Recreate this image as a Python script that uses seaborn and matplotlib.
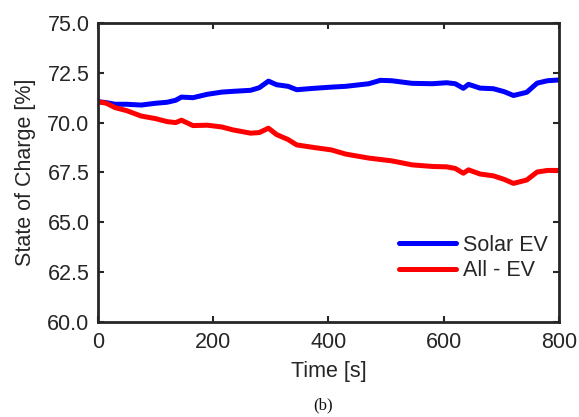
import numpy as np
import pandas as pd
import seaborn as sns
import matplotlib.pyplot as plt

# Time axis [s] and the two state-of-charge traces [%]
time_s = [0, 15, 30, 50, 75, 100, 120, 135, 145, 165, 190, 215, 235, 265, 280,
          296, 310, 330, 345, 375, 405, 430, 470, 490, 510, 545, 580, 605, 620,
          634, 643, 663, 686, 705, 721, 744, 762, 780, 800]
solar_ev = [71.05, 71.0, 70.92, 70.92, 70.88, 70.97, 71.02, 71.12, 71.28, 71.25,
            71.42, 71.53, 71.57, 71.62, 71.75, 72.08, 71.9, 71.82, 71.65, 71.72,
            71.78, 71.82, 71.95, 72.12, 72.1, 71.97, 71.95, 72.0, 71.95, 71.72,
            71.92, 71.73, 71.7, 71.55, 71.36, 71.52, 71.98, 72.1, 72.14]
all_ev = [71.05, 70.97, 70.75, 70.6, 70.33, 70.2, 70.05, 70.0, 70.12, 69.85,
          69.87, 69.78, 69.63, 69.47, 69.5, 69.72, 69.4, 69.15, 68.88, 68.75,
          68.63, 68.42, 68.22, 68.15, 68.08, 67.88, 67.8, 67.78, 67.7, 67.46,
          67.63, 67.42, 67.33, 67.15, 66.95, 67.12, 67.52, 67.6, 67.6]
series_names = ["Solar EV", "All - EV"]
series_colors = ["#0000ff", "#ff0000"]
y_ticks = [60.0, 62.5, 65.0, 67.5, 70.0, 72.5, 75.0]
x_ticks = [0, 200, 400, 600, 800]

sns.set_theme(style="ticks")
plt.rcParams['font.family'] = ['Liberation Sans', 'DejaVu Sans']
FS = 15.5

df = pd.DataFrame({
    'time': time_s * 2,
    'soc': solar_ev + all_ev,
    'series': [series_names[0]] * len(time_s) + [series_names[1]] * len(time_s),
})

fig = plt.figure(figsize=(5.79, 4.17), dpi=100)
ax = fig.add_axes([0.169, 0.228, 0.7965, 0.717])
sns.lineplot(data=df, x='time', y='soc', hue='series', hue_order=series_names,
             palette=series_colors, linewidth=3.6, ax=ax)

ax.set_xlim(0, 800)
ax.set_ylim(60, 75)
ax.set_xticks(x_ticks)
ax.set_yticks(y_ticks)
ax.set_yticklabels([f"{v:.1f}" for v in y_ticks])
ax.tick_params(direction='in', length=4, width=1.5, labelsize=FS,
               colors='#262626', top=True, right=True)
ax.tick_params(axis='x', pad=7)
ax.tick_params(axis='y', pad=6)
for sp in ax.spines.values():
    sp.set_visible(True)
    sp.set_linewidth(2)
    sp.set_color('#262626')
ax.set_xlabel("Time [s]", fontsize=FS, color='#262626', labelpad=6)
ax.set_ylabel("State of Charge [%]", fontsize=FS, color='#262626', labelpad=8)

leg = ax.legend(loc='lower right', frameon=False, fontsize=FS,
                handlelength=2.65, handletextpad=0.33, labelspacing=0.2,
                bbox_to_anchor=(1.0, 0.10), borderaxespad=0.1)
for h in leg.get_lines():
    h.set_linewidth(3.6)

fig.text(0.558, 0.008, "(b)", family=['Liberation Serif'], fontsize=12,
         ha='center', va='bottom', color='#111111')

fig.savefig("out.png", dpi=100)
